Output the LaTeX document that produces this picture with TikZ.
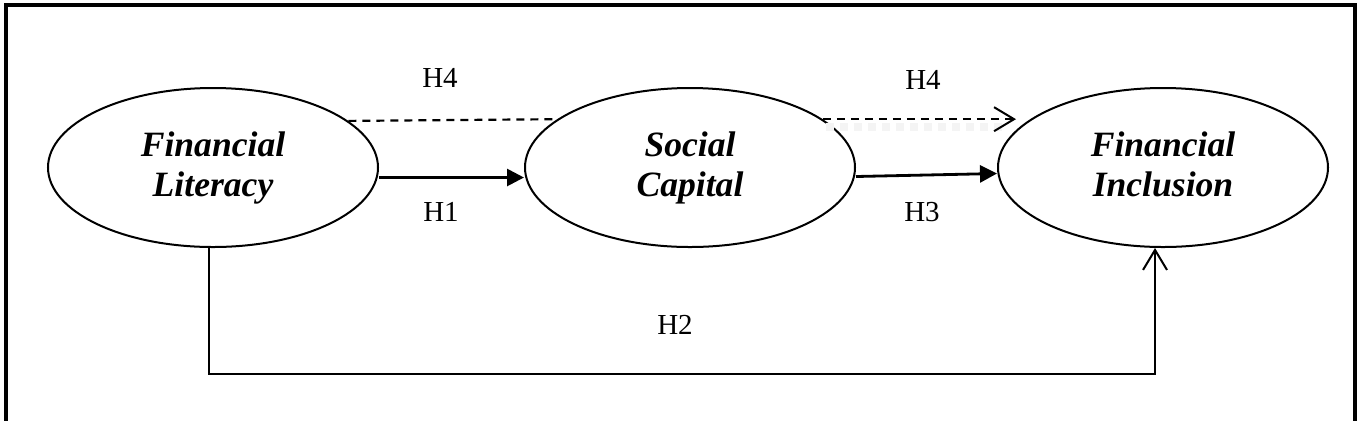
\documentclass[tikz,border=0pt]{standalone}
\usepackage{fontspec}
\setmainfont{Liberation Serif}
\usetikzlibrary{shapes.geometric,arrows.meta}
\tikzset{
  construct/.style={draw, line width=1pt, ellipse, minimum width=165pt, minimum height=79.5pt,
    inner sep=0pt, align=center, font=\fontsize{17.8}{20}\selectfont\bfseries\itshape},
  hlabel/.style={inner sep=0pt, font=\fontsize{14.5}{16}\selectfont},
  solidarrow/.style={line width=1.4pt, -{Triangle[length=8.5pt,width=8.5pt]}},
  dasharrow/.style={line width=1.1pt, dash pattern=on 4pt off 3pt},
  openarrow/.style={-{Straight Barb[length=10pt,width=12pt,line width=1pt]}},
  frameline/.style={line width=2pt},
}
\begin{document}
\begin{tikzpicture}[x=0.5pt,y=-0.5pt]
\useasboundingbox (0,0) rectangle (1366,420);
\draw[frameline] (6,5) rectangle (1354.5,426);
% constructs
\node[construct] (fl) at (213,167.5) {Financial\\Literacy};
\node[construct] (sc) at (690,167.5) {Social\\Capital};
\node[construct] (fi) at (1163,167.5) {Financial\\Inclusion\vphantom{y}};
% shadow under right dashed path
\coordinate (shA) at (826,127);
\coordinate (shB) at (1006,127);
\draw[gray!9, line width=4pt, dash pattern=on 4pt off 3pt] (shA) -- (shB);
% paths
\draw[solidarrow] ([yshift=-5pt]fl.east) -- ([yshift=-5pt]sc.west);
\draw[solidarrow] ([yshift=-4.5pt]sc.east) -- ([yshift=-3pt]fi.west);
\draw[dasharrow] (fl.19) -- (sc.160);
\path (sc.20 -| fi.west) ++(9.5pt,0) coordinate (h4end);
\draw[dasharrow, openarrow] (sc.20) -- (h4end);
\draw[line width=1pt, openarrow] ([xshift=-2pt]fl.south) -- ++(0,126) -| ([xshift=-4pt]fi.south);
% labels
\node[hlabel] (h4a) at (440,78) {H4};
\node[hlabel] (h4b) at (923,80) {H4};
\node[hlabel] (h1) at (441,211.5) {H1};
\node[hlabel] (h3) at (922,212) {H3};
\node[hlabel] (h2) at (675,325) {H2};
\end{tikzpicture}
\end{document}
